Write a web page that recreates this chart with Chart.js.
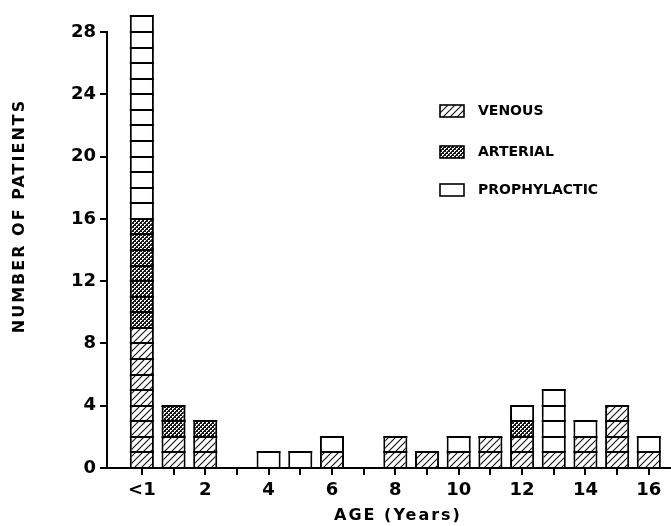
<!DOCTYPE html>
<html><head><meta charset="utf-8">
<script src="https://cdn.jsdelivr.net/npm/chart.js@4/dist/chart.umd.min.js"></script>
<style>html,body{margin:0;padding:0;background:#fff;}#wrap{width:671px;height:526px;}</style>
</head><body><div id="wrap"><canvas id="c" width="671" height="526"></canvas></div>
<script>
// ---- data ----
const categories   = ['<1','1','2','3','4','5','6','7','8','9','10','11','12','13','14','15','16'];
const venous       = [9, 2, 2, 0, 0, 0, 1, 0, 2, 1, 1, 2, 2, 1, 2, 4, 1];
const arterial     = [7, 2, 1, 0, 0, 0, 0, 0, 0, 0, 0, 0, 1, 0, 0, 0, 0];
const prophylactic = [13,0, 0, 0, 1, 1, 1, 0, 0, 0, 1, 0, 1, 4, 1, 0, 1];
const xTickLabels  = ['<1','','2','','4','','6','','8','','10','','12','','14','','16'];
const yTickValues  = [0, 4, 8, 12, 16, 20, 24, 28];
const seriesNames  = ['VENOUS','ARTERIAL','PROPHYLACTIC'];
const xTitle = 'AGE (Years)';
const yTitle = 'NUMBER OF PATIENTS';

const FONT = "'DejaVu Sans', 'Liberation Sans', sans-serif";
const canvas = document.getElementById('c');
const ctx = canvas.getContext('2d');

function makeHatch(){
  const c=document.createElement('canvas'); c.width=7; c.height=7;
  const g=c.getContext('2d');
  g.fillStyle='#fff'; g.fillRect(0,0,7,7);
  g.strokeStyle='#111'; g.lineWidth=1.1;
  g.beginPath();
  g.moveTo(-1,8); g.lineTo(8,-1);
  g.moveTo(-1,1); g.lineTo(1,-1);
  g.moveTo(6,8); g.lineTo(8,6);
  g.stroke();
  return ctx.createPattern(c,'repeat');
}
function makeCross(){
  const c=document.createElement('canvas'); c.width=4; c.height=4;
  const g=c.getContext('2d');
  g.fillStyle='#1a1a1a'; g.fillRect(0,0,4,4);
  g.fillStyle='#fff';
  g.fillRect(0,0,2,1); g.fillRect(0,1,1,1);
  g.fillRect(2,2,2,1); g.fillRect(2,3,1,1);
  return ctx.createPattern(c,'repeat');
}
const fills = [makeHatch(), makeCross(), '#ffffff'];
const seriesData = [venous, arterial, prophylactic];

const cellLines = {
  id:'cellLines',
  afterDatasetsDraw(chart){
    const c=chart.ctx, ys=chart.scales.y;
    c.save();
    c.strokeStyle='#000'; c.lineWidth=2;
    chart.data.datasets.forEach((ds,di)=>{
      const meta=chart.getDatasetMeta(di);
      meta.data.forEach((bar,i)=>{
        const v=seriesData[di][i];
        if(!v) return;
        let base=0; for(let d=0; d<di; d++) base+=seriesData[d][i];
        const p=bar.getProps(['x','width'],true);
        const x0=p.x-p.width/2, x1=p.x+p.width/2;
        for(let k=base+1;k<=base+v;k++){
          const y=Math.round(ys.getPixelForValue(k));
          c.beginPath(); c.moveTo(x0,y); c.lineTo(x1,y); c.stroke();
        }
      });
    });
    c.restore();
  }
};

const legendAndTitles = {
  id:'legendAndTitles',
  afterDraw(chart){
    const c=chart.ctx;
    c.save();
    const rows=[111,152,190];
    c.font='bold 14px '+FONT;
    c.textBaseline='middle'; c.textAlign='left';
    seriesNames.forEach((n,i)=>{
      const y=rows[i];
      c.fillStyle=fills[i];
      c.fillRect(440,y-6,24,12);
      c.strokeStyle='#000'; c.lineWidth=1.6;
      c.strokeRect(440,y-6,24,12);
      c.fillStyle='#000';
      c.fillText(n,478,y+0.5);
    });
    // axis titles
    c.font='bold 16px '+FONT;
    try{ c.letterSpacing='2px'; }catch(e){}
    c.textAlign='center'; c.textBaseline='middle';
    c.fillText(xTitle,398,516);
    c.translate(20,216); c.rotate(-Math.PI/2);
    c.fillText(yTitle,0,0);
    c.restore();
  }
};

const mk=(i)=>({
  label: seriesNames[i],
  data: categories.map((_,k)=>({x:k,y:seriesData[i][k]})),
  backgroundColor: fills[i],
  borderColor:'#000',
  borderWidth:{left:2,right:2,top:0,bottom:0},
  borderSkipped:false,
  clip:false
});

new Chart(ctx,{
  type:'bar',
  data:{datasets:[mk(0),mk(1),mk(2)]},
  options:{
    responsive:false, animation:false,
    layout:{padding:{top:32,right:0,left:0,bottom:0}},
    plugins:{legend:{display:false},tooltip:{enabled:false}},
    datasets:{bar:{barPercentage:0.76,categoryPercentage:1}},
    scales:{
      x:{
        type:'linear', stacked:true, min:-1.1, max:16.7, offset:false,
        afterBuildTicks:s=>{ s.ticks=categories.map((_,i)=>({value:i})); },
        afterFit:s=>{ s.height=58; },
        ticks:{ autoSkip:false, maxRotation:0, color:'#000', padding:5,
          font:{family:FONT,size:18,weight:'bold'},
          callback:(v)=>xTickLabels[Math.round(v)] },
        grid:{offset:false,drawOnChartArea:false,drawTicks:true,tickLength:7,color:'#000',lineWidth:2},
        border:{display:true,color:'#000',width:2}
      },
      y:{
        stacked:true, min:0, max:28,
        afterBuildTicks:s=>{ s.ticks=yTickValues.map(v=>({value:v})); },
        afterFit:s=>{ s.width=107; },
        ticks:{ color:'#000', padding:4, font:{family:FONT,size:18,weight:'bold'} },
        grid:{drawOnChartArea:false,drawTicks:true,tickLength:7,color:'#000',lineWidth:2},
        border:{display:true,color:'#000',width:2}
      }
    }
  },
  plugins:[cellLines, legendAndTitles]
});
</script></body></html>
